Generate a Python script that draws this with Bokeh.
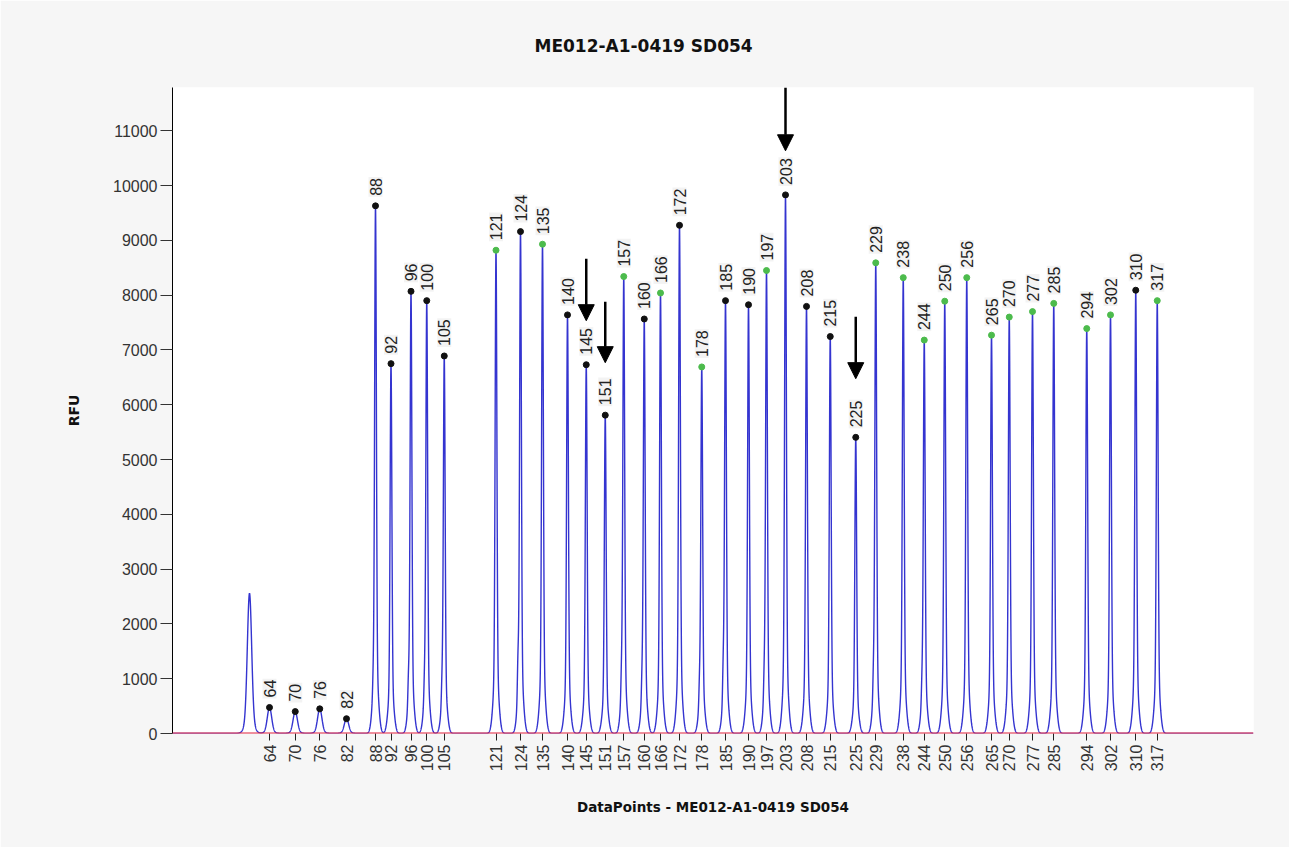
import numpy as np
from bokeh.plotting import figure
from bokeh.models import (Range1d, FixedTicker, Arrow, NormalHead, Span, Title,
                          ColumnDataSource, Label)
from bokeh.core.properties import value
from bokeh.embed import file_html
from bokeh.resources import INLINE

SAMPLE = "ME012-A1-0419 SD054"

# Called fragments: size (bp), scan position (data points) and peak height (RFU)
sizes = [64, 70, 76, 82, 88, 92, 96, 100, 105, 121, 124, 135, 140, 145, 151,
         157, 160, 166, 172, 178, 185, 190, 197, 203, 208, 215, 225, 229, 238,
         244, 250, 256, 265, 270, 277, 285, 294, 302, 310, 317]
scans = [1388, 1491, 1589, 1696, 1812, 1874, 1954, 2017, 2087, 2294, 2392,
         2480, 2580, 2655, 2731, 2805, 2887, 2952, 3028, 3117, 3212, 3304,
         3376, 3452, 3536, 3631, 3733, 3813, 3923, 4007, 4089, 4177, 4276,
         4347, 4440, 4525, 4657, 4752, 4853, 4939]
heights = [475, 400, 450, 270, 9630, 6750, 8070, 7900, 6890, 8820, 9160,
           8930, 7640, 6730, 5810, 8340, 7565, 8040, 9275, 6690, 7900, 7825,
           8450, 9830, 7795, 7245, 5405, 8590, 8320, 7180, 7890, 8320, 7270,
           7600, 7700, 7850, 7390, 7640, 8090, 7900]
# Peaks matched to the reference panel are flagged green
matched = [False, False, False, False, False, False, False, False, False, True,
           False, True, False, False, False, True, False, True, False, True,
           False, False, True, False, False, False, False, True, True, True,
           True, True, True, True, True, True, True, True, False, True]

# Uncalled peak and small shoulders on the raw trace (scan, RFU)
extra_scans = [1308]
extra_heights = [2560]
shoulder_scans = [1803, 1944, 2008, 2078, 2382, 2796, 2878, 3108, 3203, 3367, 3804, 3998]
shoulder_heights = [240, 400, 340, 360, 640, 430, 390, 360, 580, 420, 430, 360]

# Peaks pointed out with arrows: size, arrow top and tip (RFU)
flagged_sizes = [203, 145, 151, 225]
flag_tops = [11790, 8665, 7880, 7607]
flag_tips = [10635, 7534, 6768, 6476]

y_ticks = list(range(0, 11001, 1000))
X0, X1 = 1000, 5324
Y1 = 11790

# Raw signal built from the peak table
x = np.arange(X0, X1, 0.5)
signal = np.zeros_like(x)
for c, h in zip(scans[4:], heights[4:]):
    d = x - c
    signal += h * (0.86 * np.exp(-d**2 / (2 * 3.4**2)) + 0.14 * np.exp(-d**2 / (2 * 10.0**2)))
for c, h in zip(scans[:4] + extra_scans, heights[:4] + extra_heights):
    d = x - c
    signal += h * (0.9 * np.exp(-d**2 / (2 * 8.5**2)) + 0.1 * np.exp(-d**2 / (2 * 16.0**2)))
for c, h in zip(shoulder_scans, shoulder_heights):
    d = x - c
    signal += h * np.exp(-d**2 / (2 * 2.5**2))

p = figure(width=1289, height=847, output_backend="svg", toolbar_location=None,
           x_range=Range1d(X0, X1), y_range=Range1d(0, Y1),
           min_border_left=172, min_border_right=36, min_border_top=87, min_border_bottom=114,
           background_fill_color="white", border_fill_color="#f6f6f6",
           outline_line_color=None)

p.xgrid.visible = False
p.ygrid.visible = False

# Panel frame: a large empty box whose top-left corner sits near the canvas corner
p.add_layout(Label(x=6, y=5, x_units="canvas", y_units="canvas", text=" ",
                   anchor="top_left", padding=1500, text_font_size="2px",
                   border_line_color="#1e2a47", border_line_width=2,
                   background_fill_color=None, level="overlay"))

# Title above the panel
p.add_layout(Title(text=SAMPLE, align="left", offset=362, standoff=64,
                   text_font="DejaVu Sans", text_font_size="17px",
                   text_font_style="bold", text_color="#111111"), "above")

# Y axis
ya = p.yaxis[0]
ya.ticker = FixedTicker(ticks=y_ticks)
ya.axis_label = "RFU"
ya.axis_label_text_font = "DejaVu Sans"
ya.axis_label_text_font_size = "14px"
ya.axis_label_text_font_style = "bold"
ya.axis_label_text_color = "#111111"
ya.axis_label_standoff = 28
ya.major_label_text_font = "Liberation Sans"
ya.major_label_text_font_size = "16px"
ya.major_label_text_color = "#333333"
ya.major_label_standoff = 3
ya.major_tick_out = 12
ya.major_tick_in = 0
ya.minor_tick_out = 0
ya.minor_tick_in = 0
ya.axis_line_color = "black"
ya.major_tick_line_color = "#333333"

# X axis: ticks at each called peak, labelled with its size
xa = p.xaxis[0]
xa.ticker = FixedTicker(ticks=scans)
xa.major_label_overrides = {s: str(z) for s, z in zip(scans, sizes)}
xa.major_label_orientation = np.pi / 2
xa.major_label_text_font = "Liberation Sans"
xa.major_label_text_font_size = "16px"
xa.major_label_text_color = "#333333"
xa.major_label_standoff = 4
xa.major_tick_out = 7
xa.major_tick_in = 0
xa.minor_tick_out = 0
xa.minor_tick_in = 0
xa.axis_line_color = None
xa.major_tick_line_color = "#222222"
xa.axis_label = "DataPoints - " + SAMPLE
xa.axis_label_text_font = "DejaVu Sans"
xa.axis_label_text_font_size = "13.5px"
xa.axis_label_text_font_style = "bold"
xa.axis_label_text_color = "#111111"
xa.axis_label_standoff = 25

# Trace and baseline
p.line(x, signal, line_color="#3434d0", line_width=1.4)
p.add_layout(Span(location=0, dimension="width", line_color="#e0203c", line_width=1.8))

# Peak markers and size labels
src = ColumnDataSource(dict(
    x=scans, y=heights, label=[str(s) for s in sizes],
    color=["#4cbb4c" if m else "#111111" for m in matched]))
p.text(x="x", y="y", text="label", source=src, angle=np.pi / 2,
       text_align="left", text_baseline="middle", y_offset=-9,
       text_font=value("Liberation Sans"), text_font_size="16px", text_color="#222222",
       background_fill_color="#f2f2f2", background_fill_alpha=0.9, padding=1)
p.scatter(x="x", y="y", source=src, size=6, fill_color="color", line_color="color")

# Arrows
for s, top, tip in zip(flagged_sizes, flag_tops, flag_tips):
    sx = scans[sizes.index(s)]
    p.add_layout(Arrow(end=NormalHead(size=16, fill_color="black", line_color="black"),
                       x_start=sx, y_start=top, x_end=sx, y_end=tip,
                       line_color="black", line_width=2.5))

open("out.html", "w").write(file_html(p, INLINE))
